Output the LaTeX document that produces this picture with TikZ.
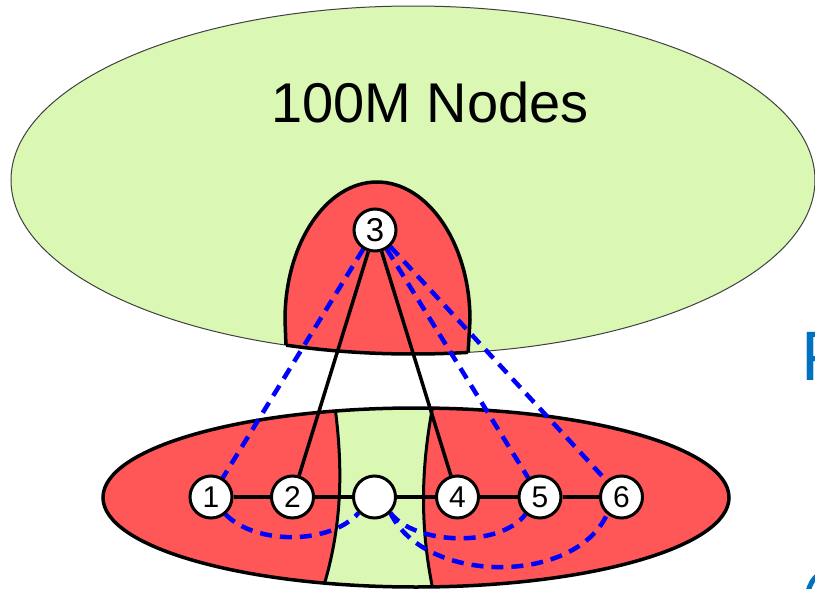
\documentclass[tikz,border=0pt]{standalone}
\usepackage{fontspec}
\setmainfont{Liberation Sans}
\definecolor{popgreen}{HTML}{DAF7B4}
\definecolor{cutred}{HTML}{FF5757}
\definecolor{slideblue}{HTML}{0070C0}
\pgfdeclarelayer{bg}
\pgfsetlayers{bg,main}
\tikzset{
  vertex/.style={circle, draw=black, line width=3pt, fill=white, minimum size=42pt,
    inner sep=0pt, font=\fontsize{30}{30}\selectfont},
  edge/.style={draw=black, line width=3.5pt},
  rewire/.style={draw=blue, line width=4.5pt, dash pattern=on 12pt off 8pt},
  border/.style={draw=black, line width=3.5pt}
}
\begin{document}
\begin{tikzpicture}[x=1pt,y=-1pt]
\useasboundingbox (0,0) rectangle (815,589);
\clip (0,0) rectangle (815,589);

% outline of the cut part of the upper graph
\def\domeoutline{(287,372) -- (285,320) .. controls (285,244) and (326,182) .. (377,182)
  .. controls (428,182) and (470,244) .. (470,320) -- (467,372)}
\def\upperpop{(413,180) ellipse [x radius=402, y radius=174]}
\def\lowerpop{(416,497.5) ellipse [x radius=313, y radius=89.5]}

\begin{pgfonlayer}{bg}
  % upper population
  \path[fill=popgreen, draw=black!75, line width=1pt] \upperpop;
  \begin{scope}
    \clip \upperpop;
    \fill[cutred] \domeoutline -- cycle;
    \draw[border] \domeoutline;
  \end{scope}
  \begin{scope}
    \clip \domeoutline -- cycle;
    \draw[border] \upperpop;
  \end{scope}

  % lower population with its uncut middle band
  \fill[cutred] \lowerpop;
  \begin{scope}
    \clip \lowerpop;
    \fill[popgreen] (334,400) .. controls (344,470) and (342,530) .. (321,595)
      -- (434,595) .. controls (420,530) and (420,470) .. (434,400) -- cycle;
    \draw[line width=3pt] (334,400) .. controls (344,470) and (342,530) .. (321,595);
    \draw[line width=3pt] (434,400) .. controls (420,470) and (420,530) .. (434,595);
  \end{scope}
  \draw[border] \lowerpop;
\end{pgfonlayer}

\node[font=\fontsize{56}{56}\selectfont, anchor=base, inner sep=0pt] (title) at (430,122) {100M Nodes};

% vertices
\node[vertex, font=\fontsize{33}{33}\selectfont] (n3) at (375,230) {3};
\node[vertex] (n1) at (211,497) {1};
\node[vertex] (n2) at (292.5,497) {2};
\node[vertex] (nE) at (374.5,497) {};
\node[vertex] (n4) at (457.5,497) {4};
\node[vertex] (n5) at (540,497) {5};
\node[vertex] (n6) at (621.5,497) {6};

\begin{pgfonlayer}{bg}
  % existing edges
  \draw[edge] (n3) -- (n2);
  \draw[edge] (n3) -- (n4);
  \draw[edge] (n1) -- (n2) -- (nE) -- (n4) -- (n5) -- (n6);
  % rewired edges
  \draw[rewire] (n3) -- (n1);
  \draw[rewire] (n3) -- (n5);
  \draw[rewire] (n3) -- (n6);
  \draw[rewire] (n1.-50) .. controls (255,545) and (330,545) .. (nE.-135);
  \draw[rewire] (nE.-45) .. controls (415,545) and (500,548) .. (n5.-130);
  \draw[rewire] (nE.-45) .. controls (425,585) and (575,585) .. (n6.-130);
\end{pgfonlayer}

% letters running in from the right margin
\node[text=slideblue, font=\fontsize{70}{70}\selectfont, anchor=base west, inner sep=0pt] (edgeP) at (801.5,380) {P};
\coordinate (arcA) at (808,592);
\coordinate (arcB) at (818,575);
\draw[slideblue, line width=5pt, line cap=round] (arcA) .. controls (810,584) and (813,579) .. (arcB);
\end{tikzpicture}
\end{document}
